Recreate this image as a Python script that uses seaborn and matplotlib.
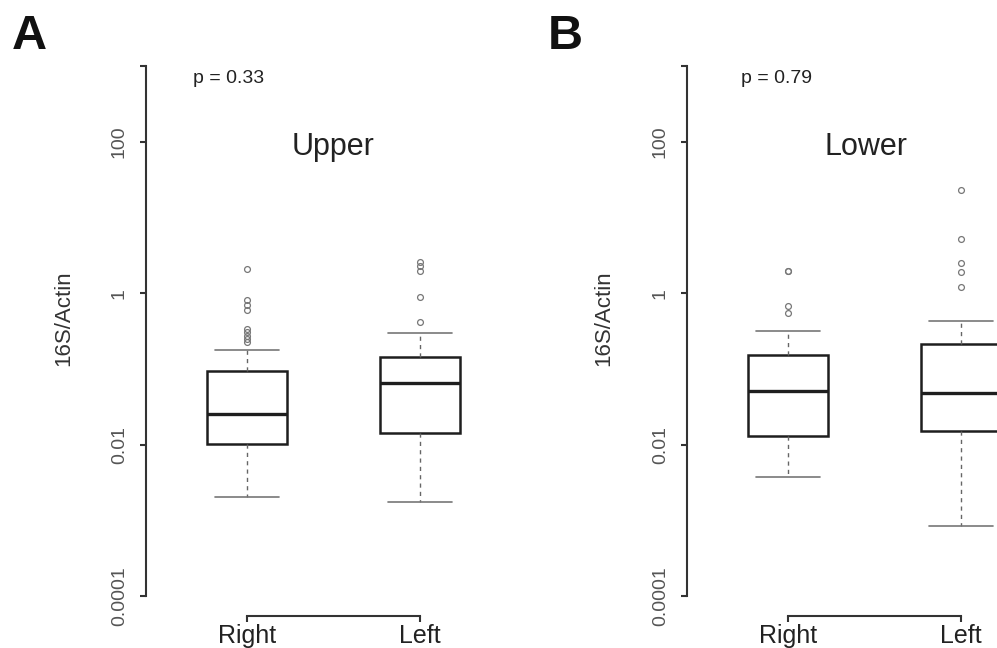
import matplotlib
matplotlib.use('Agg')
import matplotlib.pyplot as plt
import seaborn as sns
import pandas as pd
from matplotlib.ticker import FixedLocator, FixedFormatter, NullLocator

# values (16S/Actin ratio)
sides = ['Right', 'Left']
panels = ['Upper', 'Lower']
p_texts = ['p = 0.33', 'p = 0.79']
letters = ['A', 'B']

# lower whisker, Q1, median, Q3, upper whisker
upper_right_box = [0.0020, 0.0102, 0.0250, 0.0935, 0.176]
upper_right_out = [0.225, 0.246, 0.272, 0.302, 0.334, 0.595, 0.693, 0.807, 2.06]
upper_left_box = [0.00172, 0.0143, 0.0656, 0.143, 0.295]
upper_left_out = [0.413, 0.893, 1.97, 2.28, 2.55]
lower_right_box = [0.00377, 0.0130, 0.0514, 0.151, 0.317]
lower_right_out = [0.548, 0.672, 1.96, 1.96]
lower_left_box = [0.00083, 0.0150, 0.0478, 0.211, 0.426]
lower_left_out = [1.19, 1.92, 2.47, 5.19, 23.3]

y_ticks = [1e-4, 1e-2, 1, 100, 1000]
y_ticklabels = ['0.0001', '0.01', '1', '100', '']


def expand(box, out):
    # sample whose quartiles / whiskers / fliers are exactly the read values
    lo, q1, med, q3, hi = box
    k = len(out) + 1
    return [lo] + [q1] * k + [med] * k + [q3] * k + [hi] + list(out)


groups = {
    ('Upper', 'Right'): expand(upper_right_box, upper_right_out),
    ('Upper', 'Left'): expand(upper_left_box, upper_left_out),
    ('Lower', 'Right'): expand(lower_right_box, lower_right_out),
    ('Lower', 'Left'): expand(lower_left_box, lower_left_out),
}
rows = []
for (panel, side), vals in groups.items():
    for v in vals:
        rows.append({'panel': panel, 'side': side, 'value': v})
df = pd.DataFrame(rows)

sns.set_style('white')
plt.rcParams['font.family'] = ['Liberation Sans', 'DejaVu Sans']

W, H = 997, 648
fig = plt.figure(figsize=(W / 100, H / 100), dpi=100)

# pixel layout of the two panels
spine_x = [146, 687]
title_x = [0.5, 0.45]
p_x = [-0.31, -0.27]
letter_x = [12, 548]
ylab_x = [64, 604]

for i, panel in enumerate(panels):
    ax = fig.add_axes([spine_x[i] / W, 1 - 616 / H, 375 / W, 556 / H])
    sns.boxplot(data=df[df['panel'] == panel], x='side', y='value', order=sides,
                width=0.46, capwidths=0.37, color='white', linecolor='#1e1e1e',
                linewidth=1.8, ax=ax,
                medianprops=dict(linewidth=2.4),
                whiskerprops=dict(color='#666666', linestyle=(0, (3, 3)), linewidth=1.0),
                capprops=dict(color='#777777', linewidth=1.2),
                flierprops=dict(marker='o', markerfacecolor='none', markeredgecolor='#777777',
                                markersize=4.2, markeredgewidth=0.9))
    ax.set_yscale('log')
    ax.set_xlim(-0.583, 1.584)
    ax.set_ylim(10 ** (-4 - 20 / 75.5), 10 ** (3 + 6 / 75.5))

    ax.yaxis.set_major_locator(FixedLocator(y_ticks))
    ax.yaxis.set_major_formatter(FixedFormatter(y_ticklabels))
    ax.yaxis.set_minor_locator(NullLocator())
    ax.set_xticks([0, 1])
    ax.set_xticklabels(sides)
    ax.set_xlabel('')
    ax.set_ylabel('')

    for s in ['top', 'right']:
        ax.spines[s].set_visible(False)
    ax.spines['left'].set_bounds(1e-4, 1e3)
    ax.spines['bottom'].set_bounds(0, 1)
    for s in ['left', 'bottom']:
        ax.spines[s].set_linewidth(1.5)
        ax.spines[s].set_color('#333333')

    ax.tick_params(axis='y', left=True, direction='out', length=4, width=1.5,
                   color='#333333', labelsize=14, labelcolor='#555555', pad=9,
                   labelrotation=90)
    for lab in ax.get_yticklabels():
        lab.set_va('center')
    ax.tick_params(axis='x', bottom=True, direction='out', length=4, width=1.5,
                   color='#333333', labelsize=18, labelcolor='#222222', pad=2)

    ax.text(title_x[i], 85, panel, fontsize=22, color='#222222', ha='center', va='center')
    ax.text(p_x[i], 690, p_texts[i], fontsize=14, color='#222222', ha='left', va='center')

    fig.text(ylab_x[i] / W, 1 - 318 / H, '16S/Actin', rotation=90, fontsize=16,
             color='#333333', ha='center', va='center')
    fig.text(letter_x[i] / W, 1 - 14 / H, letters[i], fontsize=35, fontweight='bold',
             color='#111111', ha='left', va='top')

fig.savefig('out.png', dpi=100, facecolor='white')
